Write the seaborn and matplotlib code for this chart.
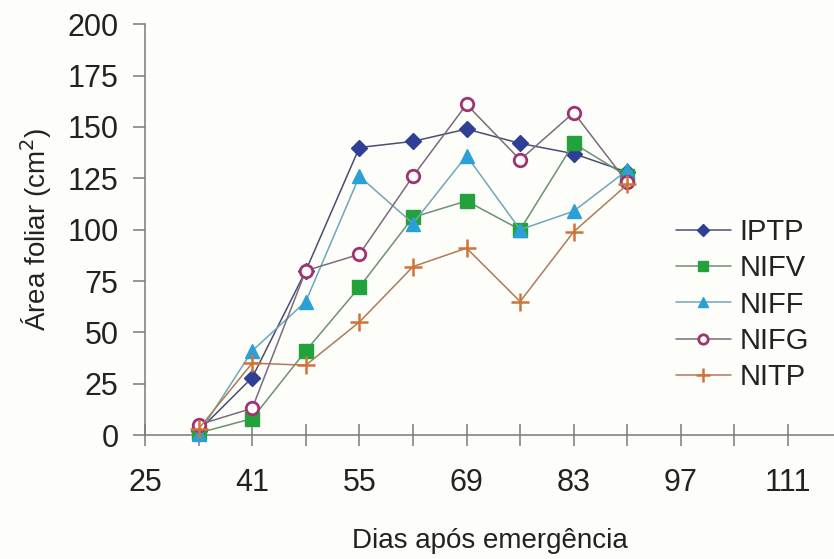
import matplotlib
matplotlib.use("Agg")
import matplotlib.pyplot as plt
import seaborn as sns
import pandas as pd

# Days after emergence at which leaf area was measured
dias = [34, 41, 48, 55, 62, 69, 76, 83, 90]

# Leaf area (cm2) per treatment
iptp = [2, 28, 80, 140, 143, 149, 142, 137, 128]
nifv = [1, 8, 41, 72, 106, 114, 100, 142, 126]
niff = [0.5, 41, 65, 126, 103, 136, 100, 109, 129]
nifg = [5, 13, 80, 88, 126, 161, 134, 157, 123]
nitp = [3, 35, 34, 55, 82, 91, 65, 99, 122]

series_names = ["IPTP", "NIFV", "NIFF", "NIFG", "NITP"]
series_values = [iptp, nifv, niff, nifg, nitp]

x_tick_pos = [27, 41, 55, 69, 83, 97, 111]
x_tick_labels = ["25", "41", "55", "69", "83", "97", "111"]
x_minor_pos = [34, 48, 62, 76, 90, 104]
y_ticks = [0, 25, 50, 75, 100, 125, 150, 175, 200]

df = pd.DataFrame(
    [(d, v, name) for name, vals in zip(series_names, series_values)
     for d, v in zip(dias, vals)],
    columns=["dias", "area", "trat"],
)

sns.set_style("white")
plt.rcParams["font.family"] = ["Liberation Sans", "DejaVu Sans"]
text_color = "#222222"
axis_color = "#7a7a7a"

styles = {
    "IPTP": dict(marker="D", ms=8, mfc="#2f3f96", mec="#2f3f96", mew=1, color="#4a4f70"),
    "NIFV": dict(marker="s", ms=10, mfc="#23a23c", mec="#23a23c", mew=1, color="#6f8f76"),
    "NIFF": dict(marker="^", ms=10, mfc="#2aa0d6", mec="#2aa0d6", mew=1, color="#6fa7b8"),
    "NIFG": dict(marker="o", ms=9, mfc="white", mec="#a0336f", mew=2, color="#7d6a80"),
    "NITP": dict(marker="+", ms=13, mfc="#d0733a", mec="#d0733a", mew=1.8, color="#b07a5a"),
}

fig = plt.figure(figsize=(8.34, 5.59), dpi=100, facecolor="#fdfdf9")
ax = fig.add_axes([0.1739, 0.2218, 1 - 0.1739, 0.9565 - 0.2218])
ax.set_facecolor("#fdfdf9")

for name in series_names:
    st = styles[name]
    sns.lineplot(
        data=df[df["trat"] == name], x="dias", y="area", ax=ax,
        color=st["color"], linewidth=1.1, marker=st["marker"],
        markersize=st["ms"], markerfacecolor=st["mfc"],
        markeredgecolor=st["mec"], markeredgewidth=st["mew"],
        label=name, zorder=3, clip_on=False,
    )

ax.set_xlim(27, 117)
ax.set_ylim(0, 200)
ax.set_xticks(x_tick_pos)
ax.set_xticklabels(x_tick_labels)
ax.set_xticks(x_minor_pos, minor=True)
ax.set_yticks(y_ticks)

for side in ["top", "right"]:
    ax.spines[side].set_visible(False)
for side in ["left", "bottom"]:
    ax.spines[side].set_color(axis_color)
    ax.spines[side].set_linewidth(1.1)

ax.tick_params(axis="x", which="both", direction="inout", length=16,
               width=1.1, color=axis_color, labelsize=22, pad=16,
               labelcolor=text_color, bottom=True)
ax.tick_params(axis="y", which="major", direction="out", length=9,
               width=1.1, color=axis_color, labelsize=22, pad=10,
               labelcolor=text_color, left=True)

ax.set_xlabel("Dias após emergência", fontsize=20, color=text_color, labelpad=21)
ax.set_ylabel("Área foliar (cm$^2$)", fontsize=20, color=text_color, labelpad=10)

leg = ax.legend(
    loc="center left", bbox_to_anchor=(0.810, 0.455),
    bbox_transform=fig.transFigure, frameon=False, fontsize=21,
    handlelength=1.9, handletextpad=0.3, labelspacing=0.28,
    borderpad=0, borderaxespad=0, markerscale=0.75,
)
for t in leg.get_texts():
    t.set_color(text_color)

fig.savefig("out.png", dpi=100, facecolor=fig.get_facecolor())
